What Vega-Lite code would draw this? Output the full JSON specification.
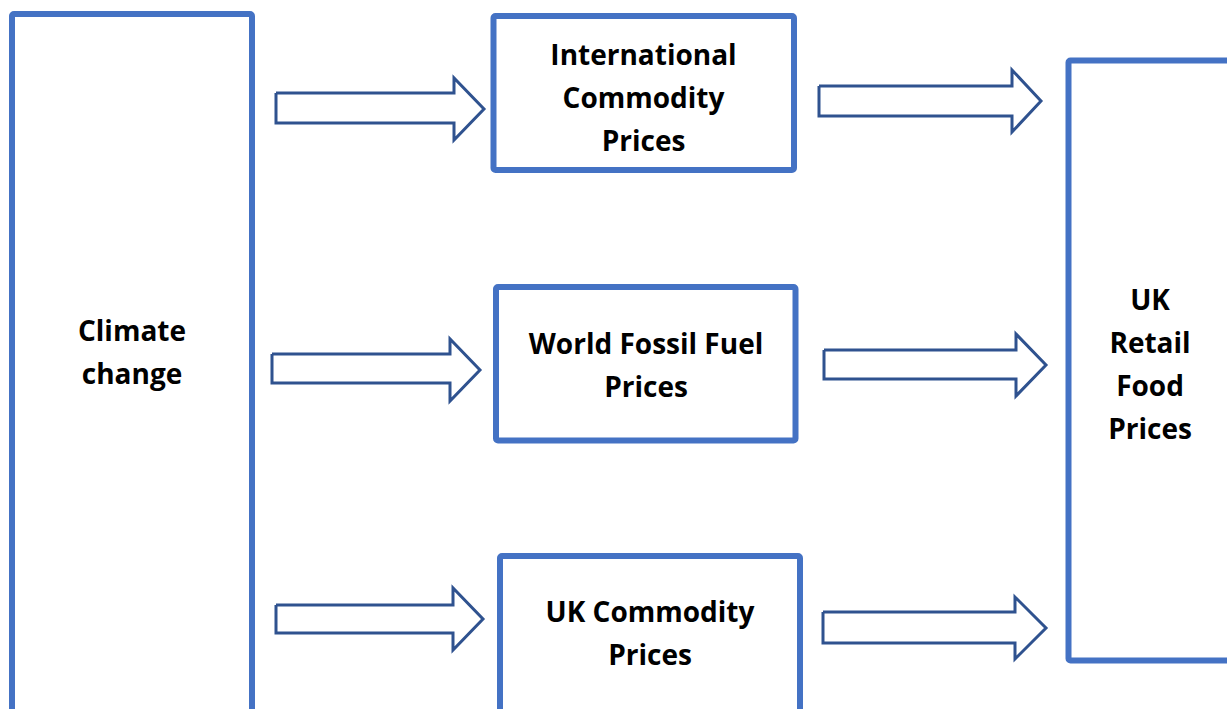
{
  "$schema": "https://vega.github.io/schema/vega-lite/v6.json",
  "autosize": {"type": "fit", "contains": "padding"},
  "width": 1227,
  "height": 709,
  "padding": 0,
  "background": "white",
  "config": {"view": {"stroke": null}},
  "datasets": {
    "boxes": [
      {"box": "Climate change", "x1": 12, "x2": 252, "y1": 14, "y2": 730},
      {"box": "International Commodity Prices", "x1": 493.5, "x2": 794, "y1": 16, "y2": 170},
      {"box": "World Fossil Fuel Prices", "x1": 496, "x2": 795.5, "y1": 287, "y2": 440.5},
      {"box": "UK Commodity Prices", "x1": 500, "x2": 800, "y1": 556, "y2": 730},
      {"box": "UK Retail Food Prices", "x1": 1068.5, "x2": 1250, "y1": 60.5, "y2": 660.5}
    ],
    "labels": [
      {"label": "Climate\nchange", "x": 132, "y": 332.5},
      {"label": "International\nCommodity\nPrices", "x": 643.5, "y": 56.5},
      {"label": "World Fossil Fuel\nPrices", "x": 646, "y": 345.5},
      {"label": "UK Commodity\nPrices", "x": 650, "y": 613.5},
      {"label": "UK\nRetail\nFood\nPrices", "x": 1150, "y": 301.5}
    ],
    "arrows": [
      {"a": 1, "i": 0, "x": 276, "y": 93}, {"a": 1, "i": 1, "x": 454, "y": 93}, {"a": 1, "i": 2, "x": 454, "y": 78}, {"a": 1, "i": 3, "x": 484, "y": 109}, {"a": 1, "i": 4, "x": 454, "y": 140}, {"a": 1, "i": 5, "x": 454, "y": 123}, {"a": 1, "i": 6, "x": 276, "y": 123}, {"a": 1, "i": 7, "x": 276, "y": 93},
      {"a": 2, "i": 0, "x": 819, "y": 86}, {"a": 2, "i": 1, "x": 1012, "y": 86}, {"a": 2, "i": 2, "x": 1012, "y": 70}, {"a": 2, "i": 3, "x": 1041, "y": 101}, {"a": 2, "i": 4, "x": 1012, "y": 132}, {"a": 2, "i": 5, "x": 1012, "y": 116}, {"a": 2, "i": 6, "x": 819, "y": 116}, {"a": 2, "i": 7, "x": 819, "y": 86},
      {"a": 3, "i": 0, "x": 272, "y": 354}, {"a": 3, "i": 1, "x": 450, "y": 354}, {"a": 3, "i": 2, "x": 450, "y": 339}, {"a": 3, "i": 3, "x": 480, "y": 370}, {"a": 3, "i": 4, "x": 450, "y": 401}, {"a": 3, "i": 5, "x": 450, "y": 383}, {"a": 3, "i": 6, "x": 272, "y": 383}, {"a": 3, "i": 7, "x": 272, "y": 354},
      {"a": 4, "i": 0, "x": 824, "y": 350}, {"a": 4, "i": 1, "x": 1016, "y": 350}, {"a": 4, "i": 2, "x": 1016, "y": 334}, {"a": 4, "i": 3, "x": 1046, "y": 365}, {"a": 4, "i": 4, "x": 1016, "y": 396}, {"a": 4, "i": 5, "x": 1016, "y": 379}, {"a": 4, "i": 6, "x": 824, "y": 379}, {"a": 4, "i": 7, "x": 824, "y": 350},
      {"a": 5, "i": 0, "x": 276, "y": 605}, {"a": 5, "i": 1, "x": 453, "y": 605}, {"a": 5, "i": 2, "x": 453, "y": 588}, {"a": 5, "i": 3, "x": 483, "y": 619}, {"a": 5, "i": 4, "x": 453, "y": 650}, {"a": 5, "i": 5, "x": 453, "y": 633}, {"a": 5, "i": 6, "x": 276, "y": 633}, {"a": 5, "i": 7, "x": 276, "y": 605},
      {"a": 6, "i": 0, "x": 823, "y": 612}, {"a": 6, "i": 1, "x": 1015, "y": 612}, {"a": 6, "i": 2, "x": 1015, "y": 597}, {"a": 6, "i": 3, "x": 1046, "y": 628}, {"a": 6, "i": 4, "x": 1015, "y": 659}, {"a": 6, "i": 5, "x": 1015, "y": 643}, {"a": 6, "i": 6, "x": 823, "y": 643}, {"a": 6, "i": 7, "x": 823, "y": 612}
    ]
  },
  "layer": [
    {
      "data": {"name": "boxes"},
      "mark": {"type": "rect", "fill": "white", "stroke": "#4472C4", "strokeWidth": 6, "cornerRadius": 2, "clip": true},
      "encoding": {
        "x": {"field": "x1", "type": "quantitative", "scale": {"domain": [0, 1227], "nice": false, "zero": false}, "axis": null},
        "x2": {"field": "x2"},
        "y": {"field": "y1", "type": "quantitative", "scale": {"domain": [0, 709], "nice": false, "zero": false, "reverse": true}, "axis": null},
        "y2": {"field": "y2"}
      }
    },
    {
      "data": {"name": "arrows"},
      "mark": {"type": "line", "stroke": "#2F528F", "strokeWidth": 3, "strokeJoin": "miter", "clip": true},
      "encoding": {
        "x": {"field": "x", "type": "quantitative", "axis": null},
        "y": {"field": "y", "type": "quantitative", "axis": null},
        "detail": {"field": "a", "type": "nominal"},
        "order": {"field": "i", "type": "quantitative"}
      }
    },
    {
      "data": {"name": "labels"},
      "mark": {"type": "text", "font": "Open Sans", "fontWeight": "bold", "fontSize": 28, "color": "black", "align": "center", "baseline": "middle", "lineBreak": "\n", "lineHeight": 43},
      "encoding": {
        "x": {"field": "x", "type": "quantitative", "axis": null},
        "y": {"field": "y", "type": "quantitative", "axis": null},
        "text": {"field": "label", "type": "nominal"}
      }
    }
  ]
}
